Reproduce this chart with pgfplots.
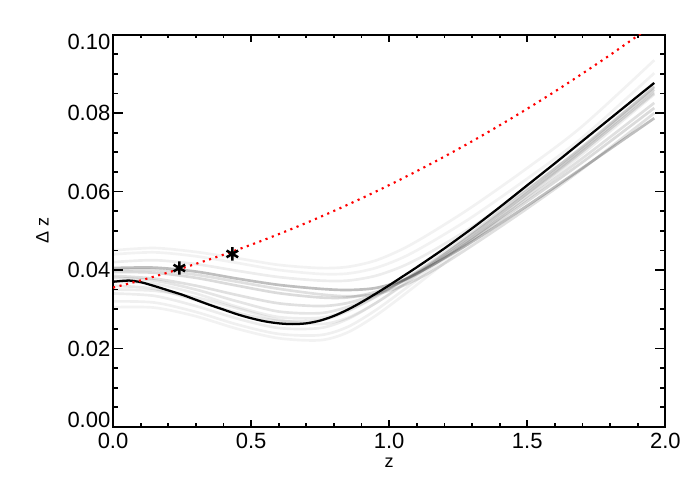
\documentclass[border=0pt]{standalone}
\usepackage{fontspec}
\setmainfont{Liberation Sans}
\usepackage{pgfplots}
\usepackage{pgfplotstable}
\pgfplotsset{compat=1.18}

\pgfplotstableread{
z     g1     g2     g3     g4     g5     g6     g7     g8     g9     g10    g11    g12    g13    g14
0.00  0.0405 0.0395 0.0385 0.0380 0.0360 0.0340 0.0320 0.0305 0.0420 0.0440 0.0450 0.0400 0.0370 0.0350
0.15  0.0406 0.0393 0.0378 0.0373 0.0352 0.0334 0.0317 0.0304 0.0425 0.0445 0.0456 0.0400 0.0365 0.0347
0.30  0.0396 0.0380 0.0360 0.0350 0.0323 0.0308 0.0293 0.0282 0.0415 0.0435 0.0446 0.0388 0.0340 0.0330
0.45  0.0378 0.0360 0.0336 0.0320 0.0291 0.0276 0.0261 0.0250 0.0398 0.0418 0.0430 0.0370 0.0306 0.0302
0.60  0.0362 0.0341 0.0315 0.0294 0.0270 0.0252 0.0237 0.0226 0.0382 0.0400 0.0413 0.0352 0.0280 0.0273
0.75  0.0352 0.0330 0.0308 0.0290 0.0272 0.0252 0.0234 0.0221 0.0373 0.0390 0.0405 0.0338 0.0278 0.0262
0.85  0.0349 0.0330 0.0316 0.0306 0.0295 0.0275 0.0255 0.0241 0.0373 0.0391 0.0408 0.0333 0.0298 0.0278
0.95  0.0354 0.0344 0.0338 0.0335 0.0331 0.0315 0.0297 0.0283 0.0385 0.0405 0.0424 0.0338 0.0332 0.0315
1.05  0.0374 0.0372 0.0372 0.0373 0.0374 0.0363 0.0348 0.0335 0.0410 0.0432 0.0454 0.0360 0.0372 0.0361
1.15  0.0410 0.0410 0.0413 0.0416 0.0420 0.0413 0.0401 0.0390 0.0446 0.0470 0.0494 0.0395 0.0417 0.0408
1.30  0.0472 0.0477 0.0482 0.0490 0.0496 0.0493 0.0484 0.0475 0.0510 0.0535 0.0561 0.0462 0.0490 0.0482
1.50  0.0564 0.0575 0.0582 0.0595 0.0604 0.0603 0.0596 0.0589 0.0608 0.0633 0.0660 0.0557 0.0597 0.0588
1.70  0.0660 0.0675 0.0685 0.0703 0.0714 0.0715 0.0708 0.0702 0.0712 0.0738 0.0767 0.0658 0.0706 0.0696
1.96  0.0787 0.0813 0.0826 0.0851 0.0865 0.0868 0.0860 0.0855 0.0868 0.0902 0.0935 0.0800 0.0860 0.0848
}\grays

\pgfplotstableread{
z     b
0.00  0.0370
0.03  0.0372
0.06  0.0373
0.10  0.0369
0.15  0.0359
0.20  0.0348
0.25  0.0337
0.30  0.0324
0.35  0.0311
0.40  0.0299
0.45  0.0287
0.50  0.0277
0.55  0.0269
0.60  0.0264
0.65  0.0262
0.70  0.0264
0.75  0.0271
0.80  0.0283
0.85  0.0299
0.90  0.0318
0.95  0.0339
1.00  0.0361
1.05  0.0384
1.10  0.0407
1.20  0.0455
1.30  0.0506
1.40  0.0560
1.50  0.0616
1.60  0.0672
1.70  0.0729
1.80  0.0786
1.90  0.0843
1.96  0.0877
}\blk

\pgfplotstableread{
z     r
0.00  0.03550
0.10  0.03735
0.20  0.03937
0.30  0.04156
0.40  0.04392
0.50  0.04644
0.60  0.04914
0.70  0.05201
0.80  0.05506
0.90  0.05827
1.00  0.06165
1.10  0.06520
1.20  0.06892
1.30  0.07281
1.40  0.07688
1.50  0.08111
1.60  0.08551
1.70  0.09009
1.80  0.09483
1.90  0.09974
1.95  0.10227
}\red

\begin{document}
\begin{tikzpicture}
\begin{axis}[
  name=ax,
  width=414pt, height=294pt, scale only axis,
  xmin=0, xmax=2, ymin=0, ymax=0.1,
  xtick={0,0.5,1,1.5,2}, minor x tick num=4,
  ytick={0,0.02,0.04,0.06,0.08,0.1}, minor y tick num=3,
  scaled y ticks=false,
  xticklabel style={/pgf/number format/.cd, fixed, fixed zerofill, precision=1, /tikz/.cd, yshift=-1.5pt},
  yticklabel style={/pgf/number format/.cd, fixed, fixed zerofill, precision=2, /tikz/.cd, xshift=1.5pt,
     yshift={(\ticknum==0)*5.5 - (\ticknum==5)*5.5}},
  /pgf/number format/assume math mode=true,
  tick align=inside,
  major tick length=7.5pt, minor tick length=3.75pt,
  xtick style={/pgfplots/major tick length=5.25pt, /pgfplots/minor tick length=2.6pt},
  tick style={line width=1.3pt, black},
  axis line style={line width=1.5pt},
  tick label style={font=\fontsize{16.5}{18}\selectfont},
  label style={font=\fontsize{13.5}{15}\selectfont},
  xlabel={z}, ylabel={Δ z},
  xlabel style={at={(axis description cs:0.5,-0.092)}, anchor=center},
  ylabel style={at={(axis description cs:-0.128,0.5)}, anchor=center},
  every axis plot/.append style={line join=round},
]
\addplot[smooth, line width=2pt, black, opacity=0.05] table[x=z,y=g11]{\grays};
\addplot[smooth, line width=2pt, black, opacity=0.05] table[x=z,y=g10]{\grays};
\addplot[smooth, line width=2pt, black, opacity=0.05] table[x=z,y=g8]{\grays};
\addplot[smooth, line width=2pt, black, opacity=0.06] table[x=z,y=g7]{\grays};
\addplot[smooth, line width=2pt, black, opacity=0.07] table[x=z,y=g6]{\grays};
\addplot[smooth, line width=2pt, black, opacity=0.07] table[x=z,y=g14]{\grays};
\addplot[smooth, line width=2pt, black, opacity=0.07] table[x=z,y=g13]{\grays};
\addplot[smooth, line width=2pt, black, opacity=0.07] table[x=z,y=g9]{\grays};
\addplot[smooth, line width=2pt, black, opacity=0.09] table[x=z,y=g5]{\grays};
\addplot[smooth, line width=2pt, black, opacity=0.10] table[x=z,y=g4]{\grays};
\addplot[smooth, line width=2pt, black, opacity=0.12] table[x=z,y=g3]{\grays};
\addplot[smooth, line width=2pt, black, opacity=0.12] table[x=z,y=g12]{\grays};
\addplot[smooth, line width=2pt, black, opacity=0.14] table[x=z,y=g2]{\grays};
\addplot[smooth, line width=2pt, black, opacity=0.25] table[x=z,y=g1]{\grays};
\addplot[smooth, line width=1.7pt, black] table[x=z,y=b]{\blk};
\addplot[smooth, line width=1.6pt, red, line cap=butt, dash pattern=on 1.6pt off 3.4pt] table[x=z,y=r]{\red};
\addplot[only marks, mark=asterisk, mark size=5pt, line width=1.9pt, black] coordinates {(0.240,0.0405) (0.432,0.0441)};
\end{axis}
\path[use as bounding box] ([xshift=-84.75pt,yshift=-55pt]ax.south west) rectangle ([xshift=26pt,yshift=26pt]ax.north east);
\end{tikzpicture}
\end{document}
